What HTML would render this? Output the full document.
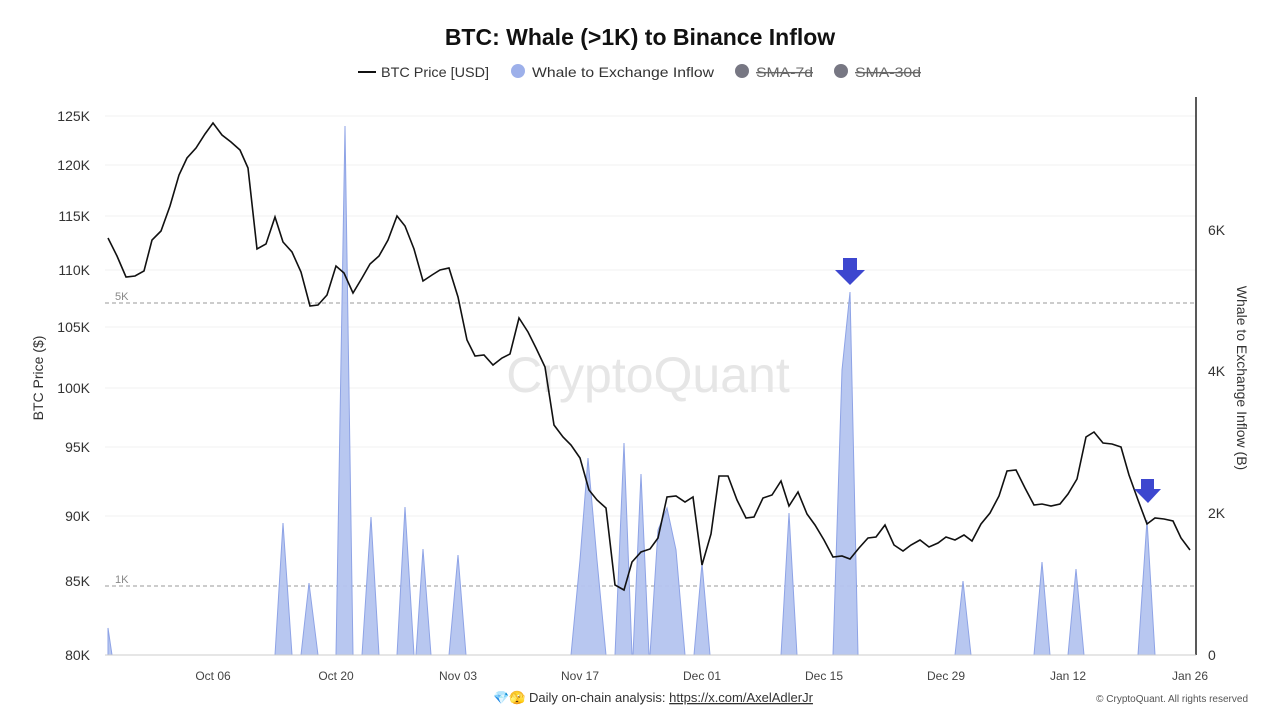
<!DOCTYPE html>
<html><head><meta charset="utf-8"><style>
body{margin:0;background:#fff;font-family:"Liberation Sans",sans-serif;}
</style></head><body>
<svg width="1280" height="720" xmlns="http://www.w3.org/2000/svg" font-family="Liberation Sans, sans-serif">
<rect width="1280" height="720" fill="#fff"/>
<text x="640" y="45" text-anchor="middle" font-size="23" font-weight="bold" fill="#111">BTC: Whale (&gt;1K) to Binance Inflow</text>
<g font-size="14" fill="#333">
<line x1="358" y1="72" x2="376" y2="72" stroke="#111" stroke-width="2"/>
<text x="381" y="77" textLength="108" lengthAdjust="spacingAndGlyphs">BTC Price [USD]</text>
<circle cx="518" cy="71" r="7" fill="#9db0ea"/>
<text x="532" y="77" textLength="182" lengthAdjust="spacingAndGlyphs">Whale to Exchange Inflow</text>
<circle cx="742" cy="71" r="7" fill="#777783"/>
<text x="756" y="77" fill="#666" text-decoration="line-through" textLength="57" lengthAdjust="spacingAndGlyphs">SMA-7d</text>
<circle cx="841" cy="71" r="7" fill="#777783"/>
<text x="855" y="77" fill="#666" text-decoration="line-through" textLength="66" lengthAdjust="spacingAndGlyphs">SMA-30d</text>
</g>
<g stroke="#f0f0f0" stroke-width="1">
<line x1="105" y1="116" x2="1196" y2="116"/><line x1="105" y1="165" x2="1196" y2="165"/><line x1="105" y1="216" x2="1196" y2="216"/><line x1="105" y1="270" x2="1196" y2="270"/><line x1="105" y1="327" x2="1196" y2="327"/><line x1="105" y1="388" x2="1196" y2="388"/><line x1="105" y1="447" x2="1196" y2="447"/><line x1="105" y1="516" x2="1196" y2="516"/>
</g>
<text x="648" y="392" text-anchor="middle" font-size="50" fill="#e6e6e6">CryptoQuant</text>
<line x1="105" y1="303" x2="1196" y2="303" stroke="#999" stroke-dasharray="4,3"/>
<line x1="105" y1="586" x2="1196" y2="586" stroke="#999" stroke-dasharray="4,3"/>
<text x="115" y="300" font-size="11" fill="#888">5K</text>
<text x="115" y="583" font-size="11" fill="#888">1K</text>
<path fill="#b4c4ef" fill-opacity="0.95" stroke="#8ea3e6" stroke-width="1" d="M108,655 L108,628 L112,655 L275,655 L283,523 L292,655 L301,655 L309,583 L318,655 L336,655 L345,126 L353,655 L362,655 L371,517 L379,655 L397,655 L405,507 L414,655 L416,655 L423,549 L431,655 L449,655 L458,555 L466,655 L571,655 L580,560 L588,458 L597,560 L606,655 L615,655 L624,443 L632,655 L633,655 L641,474 L649,655 L650,655 L658,530 L667,508 L676,550 L685,655 L694,655 L702,563 L710,655 L781,655 L789,513 L797,655 L833,655 L842,370 L850,292 L858,655 L955,655 L963,581 L971,655 L1034,655 L1042,562 L1050,655 L1068,655 L1076,569 L1084,655 L1138,655 L1147,520 L1155,655 Z"/>
<polyline fill="none" stroke="#111" stroke-width="1.6" points="108,238 117,256 126,277 135,276 144,271 152,240 161,231 170,206 179,175 187,158 196,148 205,134 213,123 222,135 231,142 240,150 248,168 257,249 266,244 275,217 283,242 292,252 301,272 310,306 318,305 327,295 336,266 344,273 353,293 362,278 370,264 379,256 388,240 397,216 405,226 414,249 423,281 432,275 440,270 449,268 458,297 467,340 475,356 484,355 493,365 502,358 510,354 519,318 528,332 536,348 545,367 554,425 563,437 571,445 580,458 589,490 597,500 606,508 615,585 624,590 632,562 641,552 650,549 658,538 667,497 676,496 685,502 693,497 702,565 711,534 719,476 728,476 737,500 746,518 754,517 763,498 772,495 781,481 789,506 798,492 807,514 815,525 824,540 833,557 842,556 850,559 859,548 868,538 876,537 885,525 894,545 903,551 911,545 920,540 929,547 938,543 946,537 955,540 964,535 972,541 981,524 990,513 999,496 1007,471 1016,470 1025,488 1034,505 1042,504 1051,506 1060,504 1068,494 1077,479 1086,437 1094,432 1103,443 1112,444 1121,447 1129,475 1138,500 1147,524 1155,518 1164,519 1173,521 1181,538 1190,550"/>
<path fill="#3d47cf" d="M843,258 h14 v12 h8 l-15,15 l-15,-15 h8 z"/>
<path fill="#3d47cf" d="M1141,479 h13 v10 h7 l-13,14 l-14,-14 h7 z"/>
<line x1="1196" y1="97" x2="1196" y2="655" stroke="#222" stroke-width="1.5"/>
<line x1="105" y1="655" x2="1196" y2="655" stroke="#ccc"/>
<g font-size="14" fill="#333" text-anchor="end">
<text x="90" y="121">125K</text><text x="90" y="170">120K</text><text x="90" y="221">115K</text><text x="90" y="275">110K</text><text x="90" y="332">105K</text><text x="90" y="393">100K</text><text x="90" y="452">95K</text><text x="90" y="521">90K</text><text x="90" y="586">85K</text><text x="90" y="660">80K</text>
</g>
<g font-size="14" fill="#333">
<text x="1208" y="235">6K</text><text x="1208" y="376">4K</text><text x="1208" y="518">2K</text><text x="1208" y="660">0</text>
</g>
<text transform="translate(43,378) rotate(-90)" text-anchor="middle" font-size="14" fill="#333">BTC Price ($)</text>
<text transform="translate(1237,378) rotate(90)" text-anchor="middle" font-size="14" fill="#333">Whale to Exchange Inflow (B)</text>
<g font-size="12" fill="#444" text-anchor="middle">
<text x="213" y="680">Oct 06</text><text x="336" y="680">Oct 20</text><text x="458" y="680">Nov 03</text><text x="580" y="680">Nov 17</text><text x="702" y="680">Dec 01</text><text x="824" y="680">Dec 15</text><text x="946" y="680">Dec 29</text><text x="1068" y="680">Jan 12</text><text x="1190" y="680">Jan 26</text>
</g>
<text x="493" y="702" font-size="13" fill="#333">💎🫣 Daily on-chain analysis: <tspan text-decoration="underline">https://x.com/AxelAdlerJr</tspan></text>
<text x="1248" y="702" text-anchor="end" font-size="10" fill="#555">© CryptoQuant. All rights reserved</text>
</svg>
</body></html>
